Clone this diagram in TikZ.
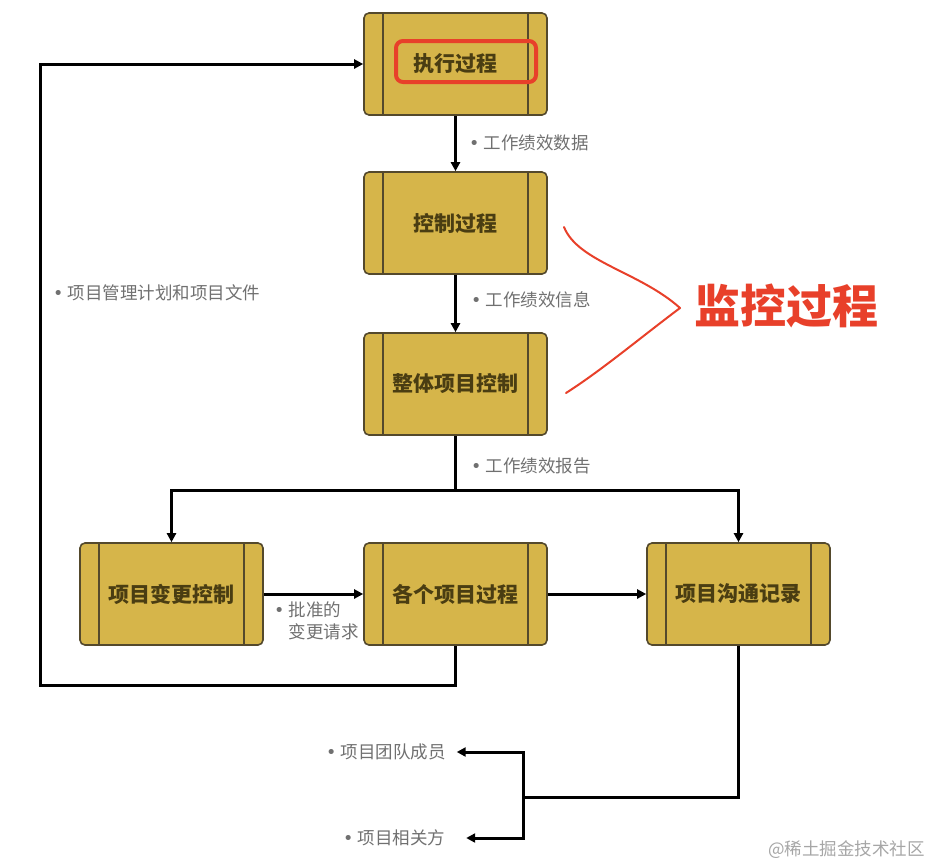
\documentclass[tikz,border=0pt]{standalone}
\usepackage{fontspec}
\newfontfamily\cjk{Noto Sans CJK SC}
\newfontfamily\dv{DejaVu Sans}
\newcommand\bul{{\dv •}\hspace{4pt}}
\usetikzlibrary{arrows.meta,calc}
\definecolor{boxfill}{HTML}{D6B54A}
\definecolor{boxline}{HTML}{54492C}
\definecolor{boxtext}{HTML}{4A3D12}
\definecolor{lbl}{HTML}{707070}
\definecolor{redmark}{HTML}{E8402A}
\tikzset{
  procbox/.style={draw=boxline, line width=1.6pt, fill=boxfill, rounded corners=5pt,
    minimum width=183pt, minimum height=102pt, inner sep=0pt,
    font=\cjk\fontsize{21}{23}\selectfont\bfseries, text=boxtext,
    path picture={
      \draw[boxline, line width=1.1pt]
        ([xshift=19pt]path picture bounding box.north west) -- ([xshift=19pt]path picture bounding box.south west)
        ([xshift=-19pt]path picture bounding box.north east) -- ([xshift=-19pt]path picture bounding box.south east);
    }},
  conn/.style={line width=3pt, black},
  arr/.style={conn, -{Triangle[length=9pt,width=9pt]}},
  lab/.style={font=\cjk\fontsize{17.5}{22}\selectfont, text=lbl, inner sep=1pt, align=left},
}
\begin{document}
\begin{tikzpicture}[x=1pt,y=-1pt]
\useasboundingbox (0,0) rectangle (930,868);
% boxes
\node[procbox] (b1) at (455.5,64) {执行过程};
\node[procbox] (b2) at (455.5,223) {控制过程};
\node[procbox] (b3) at (455.5,384) {整体项目控制};
\node[procbox] (b4) at (171.5,594) {项目变更控制};
\node[procbox] (b5) at (455.5,594) {各个项目过程};
\node[procbox] (b6) at (738.5,594) {项目沟通记录};
% coordinates
\coordinate (j) at (455.5,490);
\coordinate (p1) at (40,685);
\coordinate (q) at (523,797);
% text end nodes
\node[lab, anchor=west] (m) at (325,752) {\bul 项目团队成员};
\node[lab, anchor=west] (s) at (342,838) {\bul 项目相关方};
% connectors
\draw[arr] (b1.south) -- (b2.north);
\draw[arr] (b2.south) -- (b3.north);
\draw[conn] (b3.south) -- (j);
\draw[arr] (j) -| (b4.north);
\draw[arr] (j) -| (b6.north);
\draw[arr] (b4.east) -- (b5.west);
\draw[arr] (b5.east) -- (b6.west);
\draw[arr] (b5.south) |- (p1) |- (b1.west);
\draw[conn] (b6.south) |- (q);
\draw[arr] (q) |- ([xshift=10pt]m.east);
\draw[arr] (q) |- ([xshift=20pt]s.east);
% connector labels
\node[lab, anchor=west] (l1) at (468,143) {\bul 工作绩效数据};
\node[lab, anchor=west] (l2) at (470,300) {\bul 工作绩效信息};
\node[lab, anchor=west] (l3) at (470,466) {\bul 工作绩效报告};
\node[lab, anchor=north west] (l4) at (273,601) {\bul 批准的\\\hphantom{\bul}变更请求};
\node[lab, anchor=west] (l5) at (52,293) {\bul 项目管理计划和项目文件};
% red annotations
\draw[redmark, line width=4pt, rounded corners=7pt] (396,41) rectangle (536,82);
\draw[redmark, line width=2pt, line cap=round, line join=round]
  (564,227) .. controls (578,262) and (640,272) .. (680,308)
  .. controls (640,338) and (602,370) .. (566,393);
\node[font=\cjk\fontsize{46}{50}\selectfont\bfseries, text=redmark, inner sep=0pt] (mk) at (786,306) {监控过程};
% watermark
\node[font=\cjk\fontsize{17.5}{20}\selectfont, text=black!35, anchor=east, inner sep=0pt] (wm) at (925,850) {@稀土掘金技术社区};
\end{tikzpicture}
\end{document}
